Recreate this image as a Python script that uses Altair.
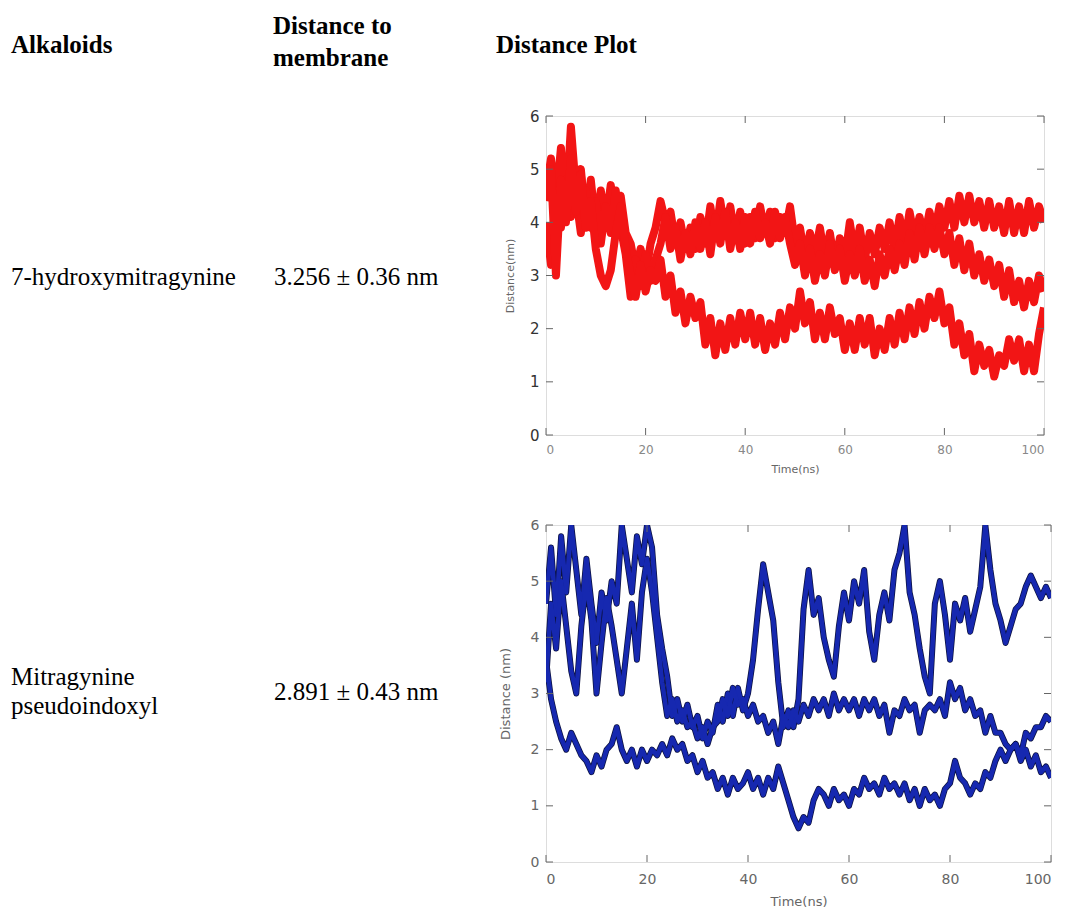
import altair as alt
import pandas as pd

# ---------------- data ----------------
header_alk = "Alkaloids"
header_dist = ["Distance to", "membrane"]
header_plot = "Distance Plot"
row1_name = ["7-hydroxymitragynine"]
row1_value = "3.256 ± 0.36 nm"
row2_name = ["Mitragynine", "pseudoindoxyl"]
row2_value = "2.891 ± 0.43 nm"

time_ns = list(range(0, 101))

red_a = [4.6, 5.2, 4.4, 5.4, 4.2, 5.8, 4.6, 5.0, 4.0, 4.8, 3.9, 4.6, 4.0, 4.7, 4.1, 4.5, 3.8, 3.6, 3.1, 3.5,
         3.0, 3.6, 3.9, 4.4, 4.0, 4.2, 3.6, 4.0, 3.5, 3.9, 3.5, 4.1, 3.6, 4.3, 3.7, 4.4, 3.8, 4.3, 3.7, 4.2,
         3.6, 4.1, 3.7, 4.3, 3.8, 4.2, 3.7, 4.1, 3.8, 4.3, 3.6, 3.9, 3.3, 3.8, 3.4, 3.9, 3.3, 3.8, 3.2, 3.7,
         3.3, 4.0, 3.4, 3.9, 3.3, 3.8, 3.4, 3.9, 3.5, 4.0, 3.5, 4.1, 3.6, 4.2, 3.7, 4.1, 3.7, 4.2, 3.8, 4.3,
         3.9, 4.4, 3.9, 4.5, 4.0, 4.5, 4.0, 4.4, 3.9, 4.4, 3.9, 4.3, 3.8, 4.4, 3.8, 4.3, 3.8, 4.4, 3.9, 4.3, 4.0]
red_b = [4.0, 3.2, 4.6, 3.9, 4.8, 4.1, 4.5, 3.8, 4.6, 3.9, 4.4, 3.6, 4.3, 3.8, 4.6, 3.9, 3.4, 2.6, 3.3, 2.8,
         3.4, 2.9, 3.3, 3.6, 4.1, 3.5, 3.9, 3.3, 3.8, 3.4, 4.0, 3.5, 4.0, 3.4, 4.1, 3.6, 4.2, 3.5, 4.0, 3.5,
         4.1, 3.6, 4.2, 3.7, 4.0, 3.6, 4.2, 3.7, 4.1, 3.6, 3.2, 3.6, 3.0, 3.5, 2.9, 3.4, 3.0, 3.6, 3.1, 3.5,
         2.9, 3.4, 3.0, 3.5, 2.9, 3.3, 2.8, 3.4, 3.0, 3.5, 3.1, 3.6, 3.2, 3.8, 3.3, 3.9, 3.4, 3.9, 3.5, 3.9,
         3.4, 3.8, 3.2, 3.7, 3.1, 3.6, 3.0, 3.4, 2.9, 3.3, 2.8, 3.2, 2.6, 3.1, 2.5, 2.9, 2.4, 2.9, 2.5, 3.0, 2.7]
red_c = [4.4, 5.0, 3.0, 4.8, 4.0, 5.2, 4.2, 4.9, 3.9, 4.4, 3.5, 3.0, 2.8, 3.1, 3.8, 4.3, 3.5, 3.0, 2.6, 3.2,
         2.7, 3.1, 2.9, 3.3, 2.6, 3.0, 2.3, 2.7, 2.1, 2.6, 2.2, 2.5, 1.7, 2.2, 1.5, 2.1, 1.6, 2.2, 1.7, 2.3,
         1.8, 2.3, 1.7, 2.2, 1.6, 2.1, 1.7, 2.3, 1.8, 2.4, 2.0, 2.7, 2.1, 2.5, 1.8, 2.3, 1.8, 2.4, 1.9, 2.2,
         1.6, 2.1, 1.6, 2.2, 1.7, 2.2, 1.5, 2.0, 1.6, 2.2, 1.7, 2.3, 1.8, 2.4, 1.9, 2.5, 2.0, 2.6, 2.2, 2.7,
         2.1, 2.4, 1.7, 2.1, 1.5, 1.9, 1.2, 1.7, 1.3, 1.6, 1.1, 1.5, 1.3, 1.8, 1.4, 1.8, 1.2, 1.7, 1.2, 1.9, 2.4]

blue_t = [4.6, 5.6, 4.4, 5.8, 4.8, 6.0, 5.2, 4.4, 5.4, 4.6, 3.9, 4.8, 4.3, 5.0, 4.6, 6.0, 5.4, 4.8, 5.8, 5.3,
          6.0, 5.6, 4.4, 3.8, 3.3, 2.6, 2.9, 2.5, 2.8, 2.4, 2.6, 2.2, 2.5, 2.3, 2.8, 2.5, 3.0, 2.6, 3.1, 2.7,
          3.0, 3.6, 4.5, 5.3, 4.8, 4.3, 3.2, 2.4, 2.7, 2.4, 2.9, 4.5, 5.2, 4.4, 4.7, 4.0, 3.6, 3.3, 4.2, 4.8,
          4.3, 5.0, 4.6, 5.2, 4.1, 3.6, 4.4, 4.8, 4.3, 5.2, 5.5, 6.0, 4.8, 4.4, 3.8, 3.3, 3.0, 4.6, 5.0, 4.4,
          3.6, 4.6, 4.3, 4.7, 4.1, 4.5, 4.9, 6.0, 5.2, 4.6, 4.3, 3.9, 4.2, 4.5, 4.6, 4.9, 5.1, 4.9, 4.7, 4.9, 4.7]
blue_m = [3.2, 4.6, 3.8, 5.0, 4.2, 3.4, 3.0, 4.2, 5.0, 4.3, 3.0, 3.9, 4.7, 4.2, 3.6, 3.0, 3.8, 4.6, 3.6, 4.8,
          5.4, 4.8, 4.0, 3.2, 2.6, 2.9, 2.5, 2.7, 2.4, 2.5, 2.2, 2.4, 2.1, 2.4, 2.5, 2.9, 2.6, 3.1, 2.8, 2.9,
          2.6, 2.8, 2.5, 2.6, 2.3, 2.5, 2.1, 2.6, 2.4, 2.7, 2.5, 2.8, 2.6, 2.9, 2.7, 2.9, 2.6, 3.0, 2.7, 2.9,
          2.7, 2.9, 2.6, 2.9, 2.7, 2.9, 2.6, 2.8, 2.3, 2.7, 2.6, 2.9, 2.7, 2.8, 2.3, 2.7, 2.8, 2.7, 2.9, 2.6,
          3.2, 2.9, 3.1, 2.7, 2.9, 2.6, 2.7, 2.3, 2.6, 2.3, 2.3, 2.1, 2.0, 2.1, 1.8, 2.0, 1.7, 1.9, 1.6, 1.7, 1.5]
blue_b = [3.6, 2.9, 2.5, 2.2, 2.0, 2.3, 2.1, 1.9, 1.8, 1.6, 1.9, 1.7, 2.0, 2.1, 2.4, 2.0, 1.8, 2.0, 1.7, 2.0,
          1.8, 2.0, 1.9, 2.1, 1.9, 2.2, 2.0, 2.1, 1.8, 1.9, 1.6, 1.8, 1.5, 1.6, 1.3, 1.5, 1.2, 1.5, 1.3, 1.4,
          1.6, 1.3, 1.5, 1.2, 1.5, 1.3, 1.7, 1.4, 1.1, 0.8, 0.6, 0.8, 0.7, 1.1, 1.3, 1.2, 1.0, 1.3, 1.1, 1.2,
          1.0, 1.3, 1.2, 1.5, 1.3, 1.4, 1.2, 1.5, 1.3, 1.4, 1.2, 1.4, 1.1, 1.3, 1.0, 1.3, 1.1, 1.2, 1.0, 1.3,
          1.4, 1.8, 1.5, 1.4, 1.2, 1.4, 1.3, 1.6, 1.5, 1.8, 2.0, 1.8, 2.0, 2.1, 1.9, 2.3, 2.2, 2.4, 2.4, 2.6, 2.5]

x_ticks = [0, 20, 40, 60, 80, 100]
y_ticks = [0, 1, 2, 3, 4, 5, 6]


def traces_df(traces):
    rows = []
    for name, vals in traces:
        for t, v in zip(time_ns, vals):
            rows.append({"time": t, "dist": v, "run": name})
    return pd.DataFrame(rows)


def text_layer(txt, x, y, size=25, weight="normal"):
    return alt.Chart(pd.DataFrame({"t": [txt]})).mark_text(
        align="left", baseline="middle", font="Liberation Serif",
        fontSize=size, fontWeight=weight, color="#000000"
    ).encode(text="t:N", x=alt.value(x), y=alt.value(y))


def plot_panel(traces, color, W, H, sw, ytitle, ylab, xlab, ttl, xpad, ytpad, edge=None):
    df = traces_df(traces)
    xs = alt.Scale(domain=[0, 100], nice=False)
    ys = alt.Scale(domain=[0, 6], nice=False)
    enc = dict(
        x=alt.X("time:Q", scale=xs, axis=alt.Axis(
            values=x_ticks, title="Time(ns)", grid=False, tickSize=0, labelPadding=xpad[0],
            labelFont="DejaVu Sans", labelFontSize=xlab[0], labelColor=xlab[1],
            titleFont="DejaVu Sans", titleFontSize=ttl, titleFontWeight="normal",
            titleColor="#666666", titlePadding=xpad[1], domain=False)),
        y=alt.Y("dist:Q", scale=ys, axis=alt.Axis(
            values=y_ticks, format="d", title=ytitle, grid=False, tickSize=0, labelPadding=7,
            labelFont="DejaVu Sans", labelFontSize=ylab[0], labelColor=ylab[1],
            titleFont="DejaVu Sans", titleFontSize=ttl, titleFontWeight="normal",
            titleColor="#666666", titlePadding=ytpad, domain=False)),
        detail="run:N",
    )
    layers = []
    if edge is not None:
        layers.append(alt.Chart(df).mark_line(color=edge, strokeWidth=sw + 1.5, clip=True,
                                              strokeJoin="round").encode(**enc))
    layers.append(alt.Chart(df).mark_line(color=color, strokeWidth=sw, clip=True,
                                          strokeJoin="round").encode(**enc))
    yt = pd.DataFrame({"v": y_ticks})
    xt = pd.DataFrame({"v": x_ticks})
    tick_col = "#666666"
    lt = alt.Chart(yt).mark_rule(color=tick_col, strokeWidth=1).encode(
        y="v:Q", x=alt.value(0), x2=alt.value(7))
    rt = alt.Chart(yt).mark_rule(color=tick_col, strokeWidth=1).encode(
        y="v:Q", x=alt.value(W - 7), x2=alt.value(W))
    bt = alt.Chart(xt).mark_rule(color=tick_col, strokeWidth=1).encode(
        x="v:Q", y=alt.value(H - 7), y2=alt.value(H))
    tt = alt.Chart(xt).mark_rule(color=tick_col, strokeWidth=1).encode(
        x="v:Q", y=alt.value(0), y2=alt.value(7))
    return layers + [lt, rt, bt, tt]


W1, H1 = 498, 319
W2, H2 = 505, 337

p1 = plot_panel([("a", red_a), ("b", red_b), ("c", red_c)], "#f21515", W1, H1, 8,
                "Distance(nm)", (15, "#333333"), (12, "#888888"), 11, (9, 8), 14)
row1 = alt.layer(
    *p1,
    text_layer(header_alk, -535, -71, 25, "bold"),
    text_layer(header_dist[0], -273, -90, 25, "bold"),
    text_layer(header_dist[1], -273, -58, 25, "bold"),
    text_layer(header_plot, -50, -71, 25, "bold"),
    text_layer(row1_name[0], -535, 161),
    text_layer(row1_value, -272, 161),
).properties(width=W1, height=H1)

p2 = plot_panel([("t", blue_t), ("m", blue_m), ("b", blue_b)], "#1628b0", W2, H2, 4.5,
                "Distance (nm)", (14, "#666666"), (14, "#666666"), 13, (10, 9), 18, edge="#0c1240")
row2 = alt.layer(
    *p2,
    text_layer(row2_name[0], -535, 152),
    text_layer(row2_name[1], -535, 181),
    text_layer(row2_value, -272, 167),
).properties(width=W2, height=H2)

chart = alt.vconcat(row1, row2, spacing=42).properties(
    padding={"left": 10, "top": 13, "right": 0, "bottom": 0}
).configure_view(stroke="#555555", strokeWidth=1.5).configure(background="white")

chart.save("out.html", embed_options={"renderer": "svg", "actions": False})
